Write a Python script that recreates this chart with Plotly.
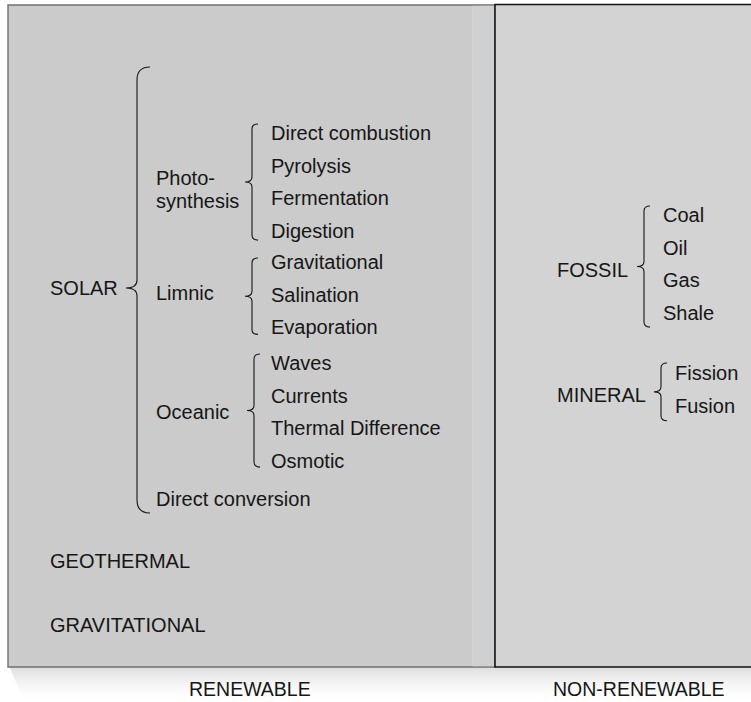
import plotly.graph_objects as go

# --- data -------------------------------------------------------------
sections = ["RENEWABLE", "NON-RENEWABLE"]
solar_groups = ["Photo-<br>synthesis", "Limnic", "Oceanic"]
photosynthesis = ["Direct combustion", "Pyrolysis", "Fermentation", "Digestion"]
limnic = ["Gravitational", "Salination", "Evaporation"]
oceanic = ["Waves", "Currents", "Thermal Difference", "Osmotic"]
solar_direct = "Direct conversion"
renewable_other = ["GEOTHERMAL", "GRAVITATIONAL"]
fossil = ["Coal", "Oil", "Gas", "Shale"]
mineral = ["Fission", "Fusion"]

W, H = 751, 702
FONT = "Liberation Sans, Arial, Helvetica, sans-serif"
FS = 20
INK = "#161616"
STEP = 32.7
PAD = 2  # annotation inner padding, so text starts at the given x

fig = go.Figure()
shapes = []
annotations = []


def label(x, y, text, anchor="left", size=FS):
    if anchor == "left":
        x -= PAD
    annotations.append(dict(x=x, y=y, xref="x", yref="y", text=text, showarrow=False,
                            xanchor=anchor, yanchor="middle", align="left",
                            font=dict(family=FONT, size=size, color=INK)))


def brace(x, y0, y1, tip=7, hook=6, r=5):
    ym = (y0 + y1) / 2
    path = (f"M {x + hook},{y0} Q {x},{y0} {x},{y0 + r} L {x},{ym - r} "
            f"Q {x},{ym} {x - tip},{ym} Q {x},{ym} {x},{ym + r} "
            f"L {x},{y1 - r} Q {x},{y1} {x + hook},{y1}")
    shapes.append(dict(type="path", path=path, xref="x", yref="y",
                       line=dict(color=INK, width=1.1)))


def leaf_group(items, x, y_start, label_text, label_x, label_y,
               gap=19, top_pad=9, bot_pad=9):
    ys = [y_start + i * STEP for i in range(len(items))]
    for y, t in zip(ys, items):
        label(x, y, t)
    brace(x - gap, ys[0] - top_pad, ys[-1] + bot_pad)
    lines = label_text.split("<br>")
    for k, line in enumerate(lines):
        label(label_x, label_y + (k - (len(lines) - 1) / 2) * 23, line)


# --- background panels ------------------------------------------------
# soft shadow beneath the panels
for i in range(14):
    shapes.append(dict(type="rect", xref="x", yref="y", x0=10 + i, x1=W + 5,
                       y0=667 + i * 2.3, y1=667 + (i + 1) * 2.3,
                       fillcolor="#9a9a9a", opacity=0.32 * (1 - i / 14) ** 1.6,
                       line=dict(width=0), layer="below"))
shapes.append(dict(type="rect", xref="x", yref="y", x0=8, x1=495, y0=5, y1=667,
                   fillcolor="#cbcbcb", line=dict(color="#707070", width=1.4), layer="below"))
shapes.append(dict(type="rect", xref="x", yref="y", x0=473.5, x1=494, y0=5.8, y1=666.2,
                   fillcolor="#cfd0d2", line=dict(width=0), layer="below"))
shapes.append(dict(type="line", xref="x", yref="y", x0=473, x1=473, y0=5.8, y1=666.2,
                   line=dict(color="#d8d8d8", width=1), layer="below"))
shapes.append(dict(type="rect", xref="x", yref="y", x0=495, x1=W + 10, y0=4.5, y1=667,
                   fillcolor="#d3d3d3", line=dict(color="#111111", width=1.5), layer="below"))

# --- renewable side ---------------------------------------------------
item_x = 271
group_x = 156
leaf_group(photosynthesis, item_x, 133, solar_groups[0], group_x, 189.5)
leaf_group(limnic, item_x, 262, solar_groups[1], group_x, 293, top_pad=4, bot_pad=7)
leaf_group(oceanic, item_x, 363, solar_groups[2], group_x, 412, gap=17, top_pad=9, bot_pad=6)
label(group_x, 499, solar_direct)

# big SOLAR brace
bx, top, bot, tip_y = 137, 67, 513, 288
path = (f"M 150,{top} Q {bx},{top} {bx},{top + 13} L {bx},{tip_y - 8} "
        f"Q {bx},{tip_y} {bx - 11},{tip_y} Q {bx},{tip_y} {bx},{tip_y + 8} "
        f"L {bx},{bot - 13} Q {bx},{bot} 150,{bot}")
shapes.append(dict(type="path", path=path, xref="x", yref="y",
                   line=dict(color=INK, width=1.1)))
label(50, tip_y, "SOLAR")

for y, t in zip([561, 625], renewable_other):
    label(50, y, t)

# --- non-renewable side -----------------------------------------------
leaf_group(fossil, 663, 215, "FOSSIL", 557, 270, top_pad=9, bot_pad=14)
leaf_group(mineral, 675, 373, "MINERAL", 557, 395, gap=14, top_pad=10, bot_pad=15)

# --- section titles ---------------------------------------------------
for x, t in zip([250, 639], sections):
    label(x, 689, t, anchor="center", size=19.5)

fig.update_layout(
    width=W, height=H, margin=dict(l=0, r=0, t=0, b=0),
    paper_bgcolor="white", plot_bgcolor="white",
    xaxis=dict(range=[0, W], visible=False, fixedrange=True),
    yaxis=dict(range=[H, 0], visible=False, fixedrange=True),
    shapes=shapes, annotations=annotations, showlegend=False,
)

fig.write_html("out.html", config={"displayModeBar": False},
               post_script="document.body.style.margin='0';")
